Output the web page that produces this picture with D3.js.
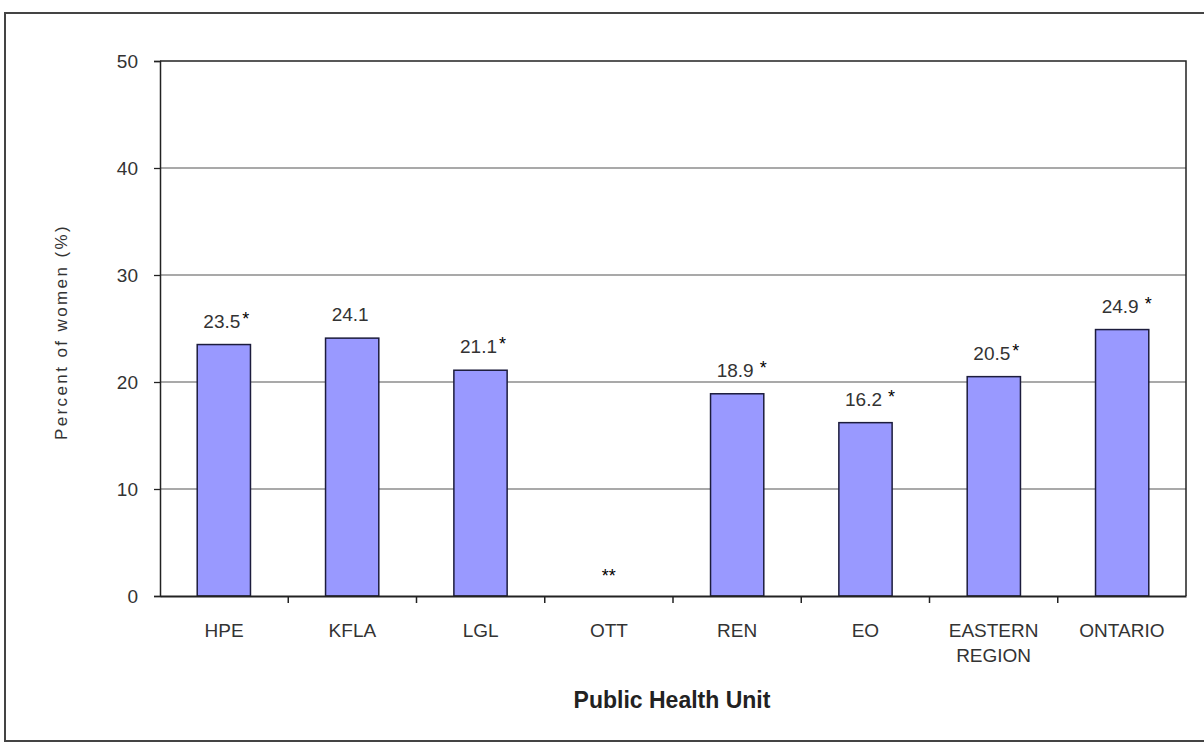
<!DOCTYPE html>
<html><head><meta charset="utf-8">
<script src="https://cdn.jsdelivr.net/npm/d3@7"></script>
<style>body{margin:0;background:#fff}svg{display:block}text{font-family:"Liberation Sans",Arial,sans-serif}</style>
</head><body>
<svg id="c" width="1204" height="748"></svg>
<script>
const categories = ["HPE","KFLA","LGL","OTT","REN","EO","EASTERN REGION","ONTARIO"];
const values = [23.5, 24.1, 21.1, null, 18.9, 16.2, 20.5, 24.9];
const valueLabels = ["23.5","24.1","21.1","","18.9","16.2","20.5","24.9"];
const notes = ["*","","*","**","*","*","*","*"];
const yTicks = [0,10,20,30,40,50];

const svg = d3.select("#c");
const W=1204,H=748;
const m={left:160,top:61,right:1186,bottom:596};

// outer frame
svg.append("path").attr("d",`M${W+5},13 H5 V741 H${W+5}`).attr("fill","none").attr("stroke","#444").attr("stroke-width",2);

const x = d3.scaleBand().domain(categories).range([m.left,m.right]).paddingInner(0.585).paddingOuter(0.29);
const xb = d3.scaleBand().domain(categories).range([m.left,m.right]);
const y = d3.scaleLinear().domain([0,50]).range([m.bottom,m.top]);

// gridlines
svg.append("g").selectAll("line").data(yTicks.filter(t=>t>0&&t<50)).join("line")
  .attr("x1",m.left).attr("x2",m.right).attr("y1",d=>y(d)).attr("y2",d=>y(d))
  .attr("stroke","#8c8c8c").attr("stroke-width",1.3);

// plot frame top/right
svg.append("path").attr("d",`M${m.left},${y(50)} H${m.right} V${m.bottom}`).attr("fill","none").attr("stroke","#222").attr("stroke-width",1.5);

// bars
svg.append("g").selectAll("rect").data(categories.map((c,i)=>({c,v:values[i]})).filter(d=>d.v!=null)).join("rect")
  .attr("x",d=>x(d.c)).attr("width",x.bandwidth())
  .attr("y",d=>y(d.v)).attr("height",d=>y(0)-y(d.v))
  .attr("fill","#9999ff").attr("stroke","#1c1c3c").attr("stroke-width",1.5);

// y axis
const ya = svg.append("g").attr("transform",`translate(${m.left},0)`)
  .call(d3.axisLeft(y).tickValues(yTicks).tickSize(6).tickPadding(16).tickFormat(d3.format("d")));
ya.select(".domain").attr("stroke","#222").attr("stroke-width",1.5);
ya.selectAll(".tick line").attr("stroke","#222").attr("stroke-width",1.3);
ya.selectAll(".tick text").attr("font-size",19).attr("fill","#333").attr("font-family","Liberation Sans, Arial, sans-serif");

// x axis
const xa = svg.append("g").attr("transform",`translate(0,${m.bottom})`)
  .call(d3.axisBottom(xb).tickSize(0).tickPadding(18));
xa.select(".domain").attr("stroke","#222").attr("stroke-width",2);
xa.selectAll(".tick text").remove();
// boundary ticks
svg.append("g").selectAll("line").data(categories.slice(1)).join("line")
  .attr("x1",d=>xb(d)).attr("x2",d=>xb(d)).attr("y1",m.bottom).attr("y2",m.bottom+7)
  .attr("stroke","#222").attr("stroke-width",1.5);
// category labels (wrap)
const lbl = svg.append("g").selectAll("text").data(categories).join("text")
  .attr("x",d=>xb(d)+xb.bandwidth()/2).attr("y",m.bottom+41)
  .attr("text-anchor","middle").attr("font-size",19).attr("fill","#333");
lbl.each(function(d){
  const words=d.split(" ");
  const t=d3.select(this);
  words.forEach((w,i)=>t.append("tspan").attr("x",xb(d)+xb.bandwidth()/2).attr("dy",i?25:0).text(w));
});

// value labels
const cx = c=>x(c)+x.bandwidth()/2;
categories.forEach((c,i)=>{
  const v=values[i];
  if(v!=null){
    const t=svg.append("text").attr("x",cx(c)-2).attr("y",y(v)-17).attr("text-anchor","middle")
      .attr("font-size",19).attr("fill","#333").text(valueLabels[i]);
    if(notes[i]){
      const bb=t.node().getBBox();
      svg.append("text").attr("x",bb.x+bb.width+(i===0||i===2||i===6?2:6)).attr("y",y(v)-20)
        .attr("font-size",18).attr("fill","#000").text(notes[i]);
    }
  } else {
    svg.append("text").attr("x",cx(c)).attr("y",y(0)-14).attr("text-anchor","middle")
      .attr("font-size",18).attr("fill","#000").text(notes[i]);
  }
});

// axis titles
svg.append("text").attr("x",672).attr("y",708).attr("text-anchor","middle")
  .attr("font-size",23).attr("font-weight","bold").attr("fill","#222").text("Public Health Unit");
svg.append("text").attr("transform",`translate(67,332) rotate(-90)`).attr("text-anchor","middle")
  .attr("font-size",17).attr("letter-spacing",2.4).attr("fill","#333").text("Percent of women (%)");
</script>
</body></html>
